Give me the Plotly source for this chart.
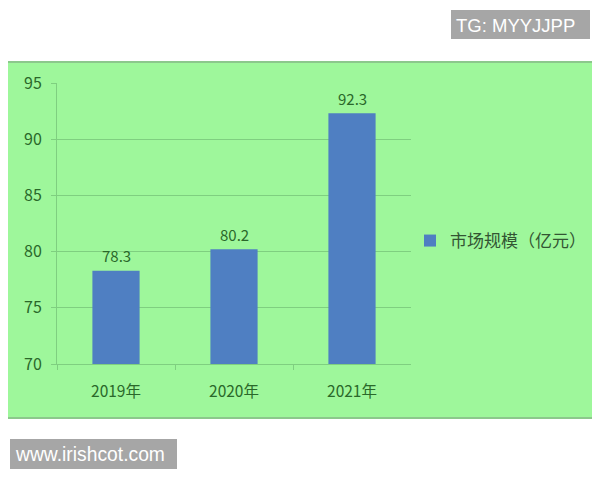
import plotly.graph_objects as go

categories = ["2019年", "2020年", "2021年"]
values = [78.3, 80.2, 92.3]
series_name = "市场规模（亿元）"
y_ticks = [70, 75, 80, 85, 90, 95]

OFF = 8  # default page body margin
W, H = 600 - OFF, 480 - OFF
def px(x): return (x - OFF) / W
def py(y): return 1 - (y - OFF) / H

text_green = "#2a682a"
grid_green = "#7fcf80"

fig = go.Figure()
fig.add_trace(go.Bar(
    x=categories, y=values, name=series_name,
    marker=dict(color="#4f7fc2", line=dict(width=0)),
    width=0.4,
))

value_labels = [
    dict(x=c, y=v, xref="x", yref="y", text=f"{v:.1f}", showarrow=False,
         yanchor="middle", yshift=15,
         font=dict(color=text_green, size=15, family="Noto Sans CJK SC"))
    for c, v in zip(categories, values)
]

fig.update_layout(
    width=W, height=H,
    margin=dict(l=0, r=0, t=0, b=0, autoexpand=False),
    paper_bgcolor="white",
    plot_bgcolor="rgba(0,0,0,0)",
    font=dict(family="Noto Sans CJK SC", color=text_green),
    showlegend=True,
    legend=dict(
        x=px(410), y=py(241), xanchor="left", yanchor="middle",
        bgcolor="rgba(0,0,0,0)",
        font=dict(size=17, color="#335533", family="Noto Sans CJK SC"),
        itemwidth=30,
    ),
    xaxis=dict(
        domain=[px(57), px(411)],
        automargin=False,
        showline=True, linecolor=grid_green, linewidth=1,
        ticks="outside", tickson="boundaries", ticklen=5, tickcolor=grid_green,
        tickfont=dict(size=15.5, color=text_green),
        ticklabelstandoff=13,
        showgrid=False,
    ),
    yaxis=dict(
        domain=[py(364), py(83)],
        automargin=False,
        range=[70, 95],
        tickvals=y_ticks,
        showline=True, linecolor=grid_green, linewidth=1,
        showgrid=True, gridcolor=grid_green, gridwidth=1,
        ticks="outside", ticklen=5, tickcolor=grid_green,
        tickfont=dict(size=16, color=text_green),
        ticklabelstandoff=6,
        zeroline=False,
    ),
    shapes=[
        dict(type="rect", xref="paper", yref="paper", layer="below",
             x0=px(5), x1=px(596), y0=py(418), y1=py(62),
             fillcolor="#9ef79b", line=dict(color="#8cc88c", width=2)),
        dict(type="rect", xref="paper", yref="paper", layer="above",
             x0=px(451), x1=px(590), y0=py(39), y1=py(10),
             fillcolor="#a6a6a6", line=dict(width=0)),
        dict(type="rect", xref="paper", yref="paper", layer="above",
             x0=px(10), x1=px(177), y0=py(469), y1=py(439),
             fillcolor="#a6a6a6", line=dict(width=0)),
    ],
    annotations=value_labels + [
        dict(text="TG: MYYJJPP", xref="paper", yref="paper",
             x=px(455), y=py(25), xanchor="left", yanchor="middle",
             showarrow=False, borderpad=0,
             font=dict(color="white", size=18.5, family="Liberation Sans")),
        dict(text="www.irishcot.com", xref="paper", yref="paper",
             x=px(14), y=py(454), xanchor="left", yanchor="middle",
             showarrow=False, borderpad=0,
             font=dict(color="white", size=19.3, family="Liberation Sans")),
    ],
)

fig.write_html("out.html")
